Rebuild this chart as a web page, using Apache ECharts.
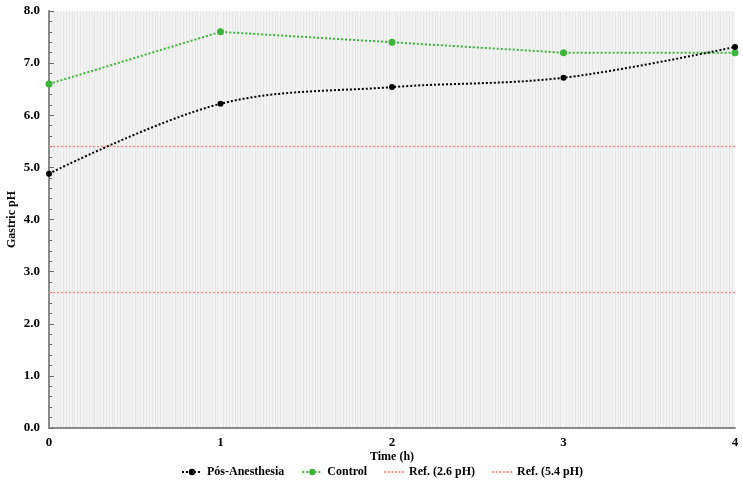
<!DOCTYPE html>
<html>
<head>
<meta charset="utf-8">
<script src="https://cdn.jsdelivr.net/npm/echarts@6/dist/echarts.min.js"></script>
<style>
  html, body { margin: 0; padding: 0; background: #fff; }
  #chart { width: 743px; height: 482px; }
</style>
</head>
<body>
<div id="chart"></div>
<script>
  // data
  var hours = [0, 1, 2, 3, 4];
  var posAnesthesia = [4.88, 6.22, 6.54, 6.72, 7.31];
  var control = [6.6, 7.6, 7.4, 7.2, 7.2];
  var refLow = 2.6;
  var refHigh = 5.4;

  function pairs(xs, ys) {
    return xs.map(function (x, i) { return [x, ys[i]]; });
  }
  function flat(v) {
    return [[hours[0], v], [hours[hours.length - 1], v]];
  }

  var font = 'Liberation Serif';
  // dotted little line for the reference entries of the legend
  var dotIcon = 'path://M0,0h2v2h-2zM4,0h2v2h-2zM8,0h2v2h-2zM12,0h2v2h-2zM16,0h2v2h-2zM20,0h2v2h-2z';

  var myChart = echarts.init(document.getElementById('chart'));
  var option = {
    animation: false,
    grid: {
      left: 49,
      right: 8,
      top: 11,
      bottom: 54,
      outerBoundsMode: 'none',
      show: true,
      backgroundColor: '#f3f3f3',
      borderWidth: 0
    },
    legend: {
      top: 461,
      left: 176,
      itemGap: 17,
      itemWidth: 20,
      itemHeight: 8,
      textStyle: { fontFamily: font, fontWeight: 'bold', fontSize: 12, color: '#000' },
      data: [
        { name: 'Pós-Anesthesia' },
        { name: 'Control' },
        { name: 'Ref. (2.6 pH)', icon: dotIcon, itemStyle: { color: '#ff8a8a' } },
        { name: 'Ref. (5.4 pH)', icon: dotIcon, itemStyle: { color: '#ff8a8a' } }
      ]
    },
    xAxis: {
      type: 'value',
      min: 0,
      max: 4,
      interval: 1,
      name: 'Time (h)',
      nameLocation: 'middle',
      nameGap: 23,
      nameMoveOverlap: false,
      nameTextStyle: { fontFamily: font, fontWeight: 'bold', fontSize: 12, color: '#000' },
      axisLine: { lineStyle: { color: '#8a8a8a', width: 2 } },
      axisTick: { show: false },
      axisLabel: { fontFamily: font, fontWeight: 'bold', fontSize: 13, color: '#000', margin: 8 },
      splitLine: { show: false },
      minorTick: { show: false, splitNumber: 60 },
      minorSplitLine: { show: true, lineStyle: { color: '#e7e7e7', width: 1 } }
    },
    yAxis: {
      type: 'value',
      min: 0,
      max: 8,
      interval: 1,
      name: 'Gastric pH',
      nameLocation: 'middle',
      nameGap: 31,
      nameMoveOverlap: false,
      nameTextStyle: { fontFamily: font, fontWeight: 'bold', fontSize: 12, color: '#000' },
      axisLine: { show: true, lineStyle: { color: '#8a8a8a', width: 2 } },
      axisTick: { show: true, inside: true, length: 5, lineStyle: { color: '#6a6a6a' } },
      minorTick: { show: true, splitNumber: 5, length: 3, lineStyle: { color: '#6a6a6a' } },
      axisLabel: {
        fontFamily: font, fontWeight: 'bold', fontSize: 13, color: '#000', margin: 9,
        formatter: function (v) { return v.toFixed(1); }
      },
      splitLine: { show: false }
    },
    series: [
      {
        name: 'Pós-Anesthesia',
        type: 'line',
        smooth: 0.35,
        data: pairs(hours, posAnesthesia),
        symbol: 'circle',
        symbolSize: 6,
        itemStyle: { color: '#000' },
        lineStyle: { color: '#000', width: 2, type: [2, 2] },
        z: 3
      },
      {
        name: 'Control',
        type: 'line',
        data: pairs(hours, control),
        symbol: 'circle',
        symbolSize: 7,
        itemStyle: { color: '#3cb43c' },
        lineStyle: { color: '#3cb43c', width: 2, type: [2, 2] },
        z: 2
      },
      {
        name: 'Ref. (2.6 pH)',
        type: 'line',
        data: flat(refLow),
        symbol: 'none',
        itemStyle: { color: '#ff8a8a' },
        lineStyle: { color: '#ff8a8a', width: 1.5, type: [2, 2] }
      },
      {
        name: 'Ref. (5.4 pH)',
        type: 'line',
        data: flat(refHigh),
        symbol: 'none',
        itemStyle: { color: '#ff8a8a' },
        lineStyle: { color: '#ff8a8a', width: 1.5, type: [2, 2] }
      }
    ]
  };
  myChart.setOption(option);
</script>
</body>
</html>
